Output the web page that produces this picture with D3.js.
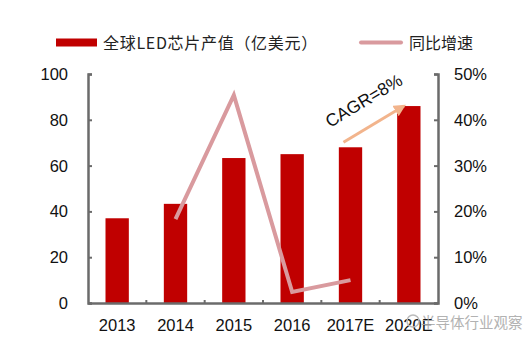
<!DOCTYPE html>
<html><head><meta charset="utf-8">
<script src="https://cdn.jsdelivr.net/npm/d3@7"></script>
<style>body{margin:0;background:#fff}svg{display:block}</style>
</head><body>
<script>
const categories = ["2013","2014","2015","2016","2017E","2020E"];
const chipValues = [37, 43.3, 63.3, 65, 68, 86];
const growthCats = ["2014","2015","2016","2017E"];
const growthValues = [0.183, 0.454, 0.024, 0.05];
const leftTicks = [0,20,40,60,80,100];
const rightTicks = [0,0.1,0.2,0.3,0.4,0.5];
const legendLabels = ["全球LED芯片产值（亿美元）","同比增速"];
const cagrText = "CAGR=8%";
const cagrFrom = "2017E", cagrTo = "2020E";
const watermark = "半导体行业观察";

const W=527,H=344;
const svg=d3.select("body").append("svg").attr("width",W).attr("height",H);
const L=88,R=438,T=74,B=303;
const x=d3.scaleBand().domain(categories).range([L,R]).paddingInner(0.6).paddingOuter(0.3);
const xb=d3.scaleBand().domain(categories).range([L,R]);
const yL=d3.scaleLinear().domain([0,100]).range([B,T]);
const yR=d3.scaleLinear().domain([0,0.5]).range([B,T]);
const font="Arial, 'Liberation Sans', sans-serif";
const cjk="'Noto Sans CJK SC', sans-serif";
const barColor="#c00000", lineColor="#d99a9e", axisColor="#6b6b6b";

// bars
svg.append("g").selectAll("rect").data(categories).join("rect")
  .attr("x",d=>x(d)).attr("width",x.bandwidth())
  .attr("y",(d,i)=>yL(chipValues[i])).attr("height",(d,i)=>B-yL(chipValues[i]))
  .attr("fill",barColor);

// line
const line=d3.line().x(d=>xb(d[0])+xb.bandwidth()/2).y(d=>yR(d[1]));
svg.append("path").datum(growthCats.map((c,i)=>[c,growthValues[i]]))
  .attr("d",line).attr("fill","none").attr("stroke",lineColor).attr("stroke-width",4);

// axes
const gl=svg.append("g").attr("transform",`translate(${L},0)`)
  .call(d3.axisRight(yL).tickValues(leftTicks).tickSize(4).tickFormat(""));
const gr=svg.append("g").attr("transform",`translate(${R},0)`)
  .call(d3.axisLeft(yR).tickValues(rightTicks).tickSize(4).tickFormat(""));
const gb=svg.append("g").attr("transform",`translate(0,${B})`)
  .call(d3.axisTop(xb).tickSize(0).tickFormat(""));
[gl,gr,gb].forEach(g=>{g.select(".domain").attr("stroke",axisColor).attr("stroke-width",2.5);
  g.selectAll(".tick line").attr("stroke",axisColor).attr("stroke-width",2);});
svg.append("g").selectAll("line").data(categories.slice(1)).join("line")
  .attr("x1",d=>xb(d)).attr("x2",d=>xb(d)).attr("y1",B).attr("y2",B-3)
  .attr("stroke",axisColor).attr("stroke-width",2);

// tick labels
svg.append("g").selectAll("text").data(leftTicks).join("text")
  .attr("x",68).attr("y",d=>yL(d)+6).attr("text-anchor","end")
  .attr("font-family",font).attr("font-size",16.5).attr("fill","#111").text(d=>d);
svg.append("g").selectAll("text").data(rightTicks).join("text")
  .attr("x",454).attr("y",d=>yR(d)+6).attr("text-anchor","start")
  .attr("font-family",font).attr("font-size",16.5).attr("fill","#111").text(d=>Math.round(d*100)+"%");
svg.append("g").selectAll("text").data(categories).join("text")
  .attr("x",d=>xb(d)+xb.bandwidth()/2).attr("y",331).attr("text-anchor","middle")
  .attr("font-family",font).attr("font-size",16.5).attr("fill","#111").text(d=>d);

// legend
svg.append("rect").attr("x",56).attr("y",38.5).attr("width",41).attr("height",8).attr("fill",barColor);
svg.append("text").attr("x",103).attr("y",49).attr("font-family",cjk)
  .attr("font-size",16).attr("letter-spacing",0.7).attr("fill","#222").text(legendLabels[0]);
svg.append("line").attr("x1",361).attr("x2",401).attr("y1",42.5).attr("y2",42.5)
  .attr("stroke",lineColor).attr("stroke-width",4).attr("stroke-linecap","round");
svg.append("text").attr("x",409).attr("y",49).attr("font-family",cjk)
  .attr("font-size",16).attr("fill","#222").text(legendLabels[1]);

// CAGR arrow
const ax1=xb(cagrFrom)+xb.bandwidth()/2-7, ay1=yL(chipValues[4])-5;
const ax2=xb(cagrTo)+xb.bandwidth()/2-5, ay2=yL(chipValues[5]);
svg.append("defs").append("marker").attr("id","ah").attr("viewBox","0 0 10 10")
  .attr("refX",8).attr("refY",5).attr("markerWidth",4).attr("markerHeight",4).attr("orient","auto")
  .append("path").attr("d","M0,0L10,5L0,10z").attr("fill","#f2b48c");
svg.append("line").attr("x1",ax1).attr("y1",ay1).attr("x2",ax2).attr("y2",ay2)
  .attr("stroke","#f2b48c").attr("stroke-width",3).attr("marker-end","url(#ah)");
svg.append("text").attr("transform",`translate(330,128) rotate(-31)`)
  .attr("font-family",font).attr("font-size",17.5).attr("fill","#111").text(cagrText);

// watermark
svg.append("circle").attr("cx",413).attr("cy",321).attr("r",6).attr("fill","none").attr("stroke","#bbb").attr("stroke-width",1.5);
svg.append("text").attr("x",421).attr("y",328).attr("font-family",cjk)
  .attr("font-size",14.5).attr("fill","#aaa").attr("opacity",0.9).text(watermark);
</script>
</body></html>
